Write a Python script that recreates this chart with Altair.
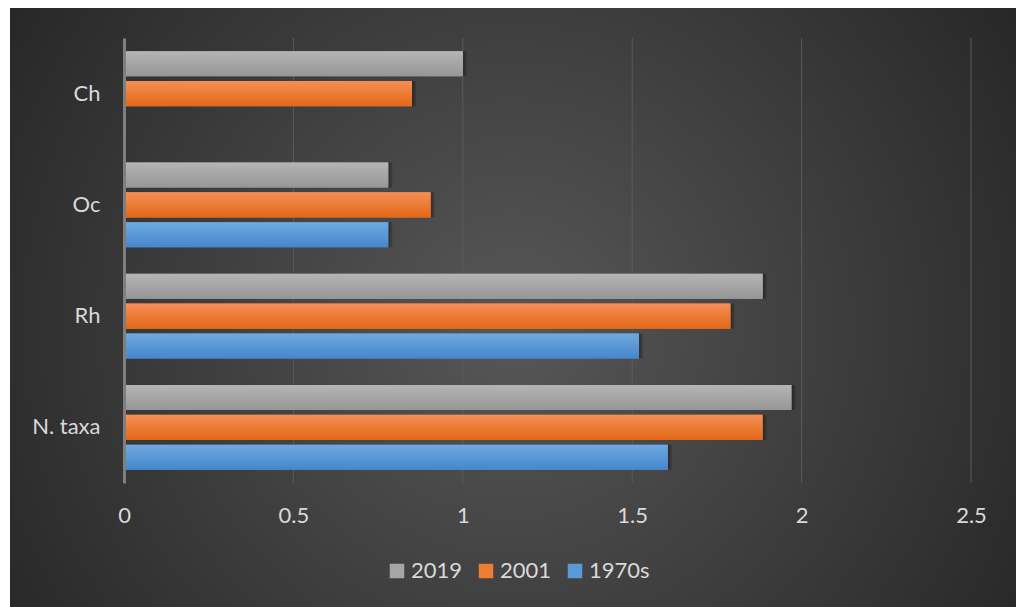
import altair as alt
import pandas as pd

categories = ["Ch", "Oc", "Rh", "N. taxa"]
series = ["2019", "2001", "1970s"]
v2019 = [1.00, 0.78, 1.885, 1.97]
v2001 = [0.85, 0.905, 1.79, 1.885]
v1970s = [None, 0.78, 1.52, 1.605]
colors = ["#a5a5a5", "#ed7d31", "#5b9bd5"]
grad_top = ["#b5b5b5", "#f48f55", "#70a9e0"]
grad_bot = ["#969696", "#e36818", "#4586cb"]
ticks = [0, 0.5, 1, 1.5, 2, 2.5]
grid_vals = [0.5, 1, 1.5, 2, 2.5]

rows = []
for s, vals in zip(series, [v2019, v2001, v1970s]):
    for c, v in zip(categories, vals):
        if v is not None:
            rows.append({"category": c, "series": s, "value": v})
df = pd.DataFrame(rows)

W, H = 847, 445
PL, PT, PR, PB = 116, 30, 45, 124
FONT = "Lato"
LABEL = "#d9d9d9"

bg_grad = {
    "gradient": "radial",
    "x1": 0.5, "y1": 0.52, "r1": 0,
    "x2": 0.5, "y2": 0.52, "r2": 0.62,
    "stops": [
        {"offset": 0, "color": "#575757"},
        {"offset": 1, "color": "#252525"},
    ],
}

x_scale = alt.Scale(domain=[0, 2.5], nice=False)
x_axis = alt.Axis(
    title=None, values=ticks, format="~g", grid=False, ticks=False, domain=False,
    labelFlush=False, labelBound=False,
    labelFont=FONT, labelFontSize=22, labelColor=LABEL, labelPadding=22, zindex=1,
)

bg = alt.Chart(pd.DataFrame({"a": [0]})).mark_rect(fill=bg_grad).encode(
    x=alt.value(-PL + 2), x2=alt.value(W + PR), y=alt.value(-PT), y2=alt.value(H + PB)
)

grid = alt.Chart(pd.DataFrame({"g": grid_vals})).mark_rule(
    color="#5a5a5a", strokeWidth=1
).encode(
    x=alt.X("g:Q", scale=x_scale, axis=x_axis),
    y=alt.value(0), y2=alt.value(H),
)

base = alt.Chart(df).encode(
    y=alt.Y(
        "category:N", sort=categories,
        scale=alt.Scale(domain=categories, paddingInner=0.236, paddingOuter=0.118),
        axis=alt.Axis(
            title=None, ticks=False, domain=True, domainColor="#7f7f7f", domainWidth=3,
            labelFont=FONT, labelFontSize=22, labelColor=LABEL, labelPadding=24, zindex=1,
        ),
    ),
    yOffset=alt.YOffset(
        "series:N", sort=series,
        scale=alt.Scale(domain=series, paddingInner=0.16, paddingOuter=0),
    ),
    x=alt.X("value:Q", scale=x_scale, axis=x_axis),
)

shadow1 = base.mark_bar(color="#000000", opacity=0.18, xOffset=4, yOffset=4)
shadow2 = base.mark_bar(color="#000000", opacity=0.18, xOffset=2, yOffset=2)

solid = base.mark_bar().encode(
    color=alt.Color(
        "series:N", sort=series,
        scale=alt.Scale(domain=series, range=colors),
        legend=alt.Legend(
            title=None, orient="none", direction="horizontal",
            legendX=262, legendY=522,
            symbolType="square", symbolSize=210, symbolStrokeWidth=0,
            labelFont=FONT, labelFontSize=22, labelColor=LABEL,
            labelOffset=3, columnPadding=12, zindex=1,
        ),
    )
)

overlays = []
for s, t, b in zip(series, grad_top, grad_bot):
    g = {
        "gradient": "linear", "x1": 0, "y1": 0, "x2": 0, "y2": 1,
        "stops": [{"offset": 0, "color": t}, {"offset": 1, "color": b}],
    }
    overlays.append(base.transform_filter(alt.datum.series == s).mark_bar(fill=g))

chart = alt.layer(bg, grid, shadow1, shadow2, solid, *overlays).properties(
    width=W, height=H,
    padding={"left": PL, "top": PT, "right": PR, "bottom": PB},
    autosize=alt.AutoSizeParams(type="none"),
    background="#ffffff",
).configure_view(stroke=None)

chart.save("out.html", embed_options={"renderer": "svg", "actions": False})
